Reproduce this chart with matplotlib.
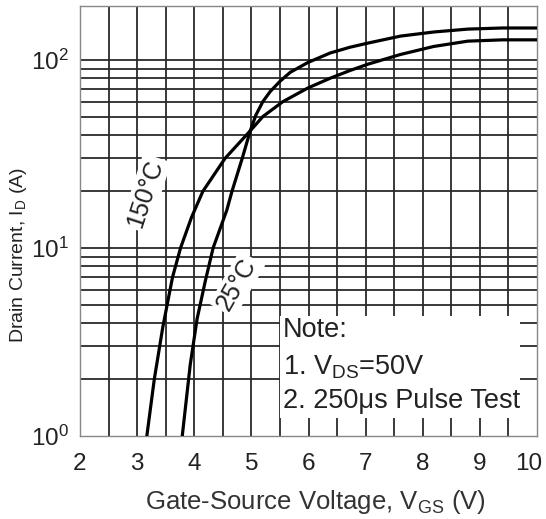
import matplotlib
matplotlib.use("Agg")
import matplotlib.pyplot as plt
import matplotlib.transforms as mtrans
import numpy as np

plt.rcParams['font.family'] = ['Liberation Sans', 'DejaVu Sans']
plt.rcParams['mathtext.fontset'] = 'custom'
plt.rcParams['mathtext.rm'] = 'Liberation Sans'
plt.rcParams['mathtext.it'] = 'Liberation Sans:italic'
plt.rcParams['mathtext.default'] = 'regular'

# transfer characteristics, Id vs Vgs
vgs_150 = [3.17, 3.30, 3.45, 3.62, 3.76, 3.95, 4.15, 4.54, 4.98, 5.20, 5.55, 5.99,
           6.38, 6.73, 7.04, 7.61, 8.19, 8.79, 9.40, 10.0]
id_150 = [1.0, 2.0, 3.8, 7.0, 10.0, 14.5, 20, 30, 42, 50, 60, 71,
          80, 88, 95, 107, 118, 126, 128, 128]

vgs_25 = [3.79, 3.93, 4.05, 4.19, 4.33, 4.57, 4.66, 4.84, 4.98, 5.08, 5.20, 5.33, 5.50,
          5.68, 5.99, 6.38, 6.73, 7.04, 7.61, 8.20, 8.79, 9.40, 10.0]
id_25 = [1.0, 2.4, 4.2, 6.6, 10.0, 15.9, 20, 30, 42, 51, 60, 68, 77,
         86, 97, 109, 117, 123, 134, 141, 146, 148, 148]

x_ticks = [2, 3, 4, 5, 6, 7, 8, 9, 10]
y_ticks = [1, 10, 100]
y_ticklabels = ['$10^{0}$', '$10^{1}$', '$10^{2}$']
note_lines = ['Note:', '1. V$_{DS}$=50V', '2. 250\u03bcs Pulse Test']
note_y = [3.66, 2.33, 1.535]

txt = '#222222'
grid_c = '#2a2a2a'

fig = plt.figure(figsize=(5.46, 5.19), dpi=100)
ax = fig.add_axes([80/546, 83/519, 457/546, 430/519])
ax.set_yscale('log')
ax.set_xlim(2, 10)
ax.set_ylim(1, 10**(430/188))

# grid: every 0.5 V, and 1..9 per decade
for v in np.arange(2.5, 10, 0.5):
    ax.axvline(v, color=grid_c, lw=1.3, zorder=1)
for dec in [1, 10]:
    for m in range(1, 10):
        if dec*m > 1:
            ax.axhline(dec*m, color=grid_c, lw=1.3, zorder=1)
ax.axhline(100, color=grid_c, lw=1.3, zorder=1)

ax.plot(vgs_150, id_150, color='black', lw=2.3, zorder=3)
ax.plot(vgs_25, id_25, color='black', lw=2.3, zorder=3)

ax.text(3.15, 19.5, '150\u00b0C', rotation=72, ha='center', va='center',
        fontsize=18, color=txt, zorder=4,
        bbox=dict(facecolor='white', edgecolor='none', pad=2))
ax.text(4.75, 6.4, '25\u00b0C', rotation=60, ha='center', va='center',
        fontsize=18, color=txt, zorder=4,
        bbox=dict(facecolor='white', edgecolor='none', pad=2))

# note box
ax.fill_between([5.50, 9.70], 1.25, 4.35, color='white', lw=0, zorder=4)
for line, y in zip(note_lines, note_y):
    ax.text(5.55, y, line, ha='left', va='center', fontsize=19.5,
            color=txt, zorder=5)

ax.set_xticks(x_ticks)
ax.set_xticklabels([str(t) for t in x_ticks], fontsize=17.5, color=txt)
ax.set_yticks(y_ticks)
ax.set_yticklabels(y_ticklabels, fontsize=17.5, color=txt)
ax.yaxis.set_minor_locator(matplotlib.ticker.NullLocator())
ax.tick_params(length=0)
ax.tick_params(axis='x', pad=12)
ax.tick_params(axis='y', pad=8)
# pull the last x label in so it stays on the canvas
last = ax.get_xticklabels()[-1]
last.set_transform(last.get_transform() +
                   mtrans.ScaledTranslation(-8/100, 0, fig.dpi_scale_trans))

for s in ax.spines.values():
    s.set_color('#888888')
    s.set_linewidth(1.0)

ax.set_xlabel('Gate-Source Voltage, V$_{GS}$ (V)', fontsize=18.5, color='#333333')
ax.xaxis.set_label_coords(0.516, -0.12)
ax.set_ylabel('Drain Current, I$_{D}$ (A)', fontsize=14, color=txt)
ax.yaxis.set_label_coords(-0.112, 0.42)

fig.savefig('out.png', dpi=100)
